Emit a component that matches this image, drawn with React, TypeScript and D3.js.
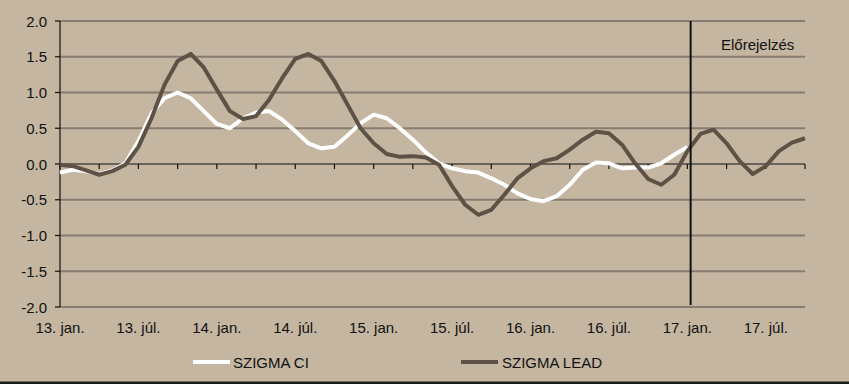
import React from "react";
import * as d3 from "d3";

const xLabels = ["13. jan.", "13. júl.", "14. jan.", "14. júl.", "15. jan.", "15. júl.", "16. jan.", "16. júl.", "17. jan.", "17. júl."];
const yTicks = [-2, -1.5, -1, -0.5, 0, 0.5, 1, 1.5, 2];

// monthly values, Jan 2013 .. Oct 2017
const szigmaLead = [
  -0.01, -0.03, -0.09, -0.15, -0.10, -0.01, 0.24, 0.64, 1.11, 1.44, 1.54, 1.35,
  1.04, 0.74, 0.63, 0.67, 0.90, 1.20, 1.47, 1.54, 1.44, 1.16, 0.83, 0.50,
  0.29, 0.14, 0.10, 0.11, 0.09, -0.01, -0.31, -0.57, -0.71, -0.64, -0.43, -0.20,
  -0.06, 0.04, 0.08, 0.20, 0.34, 0.45, 0.43, 0.27, 0.01, -0.21, -0.29, -0.15,
  0.18, 0.42, 0.48, 0.29, 0.04, -0.14, -0.03, 0.18, 0.30, 0.36,
];
const szigmaCI = [
  -0.12, -0.08, -0.10, -0.14, -0.09, 0.01, 0.32, 0.71, 0.92, 1.00, 0.92, 0.74,
  0.56, 0.50, 0.64, 0.72, 0.74, 0.62, 0.46, 0.29, 0.22, 0.24, 0.40, 0.57,
  0.69, 0.64, 0.50, 0.34, 0.16, 0.01, -0.06, -0.10, -0.12, -0.20, -0.29, -0.41,
  -0.49, -0.52, -0.45, -0.29, -0.08, 0.02, 0.01, -0.06, -0.05, -0.05, 0.01, 0.13,
  0.24,
];
const forecastStart = 48.25;
const forecastLabel = "Előrejelzés";
const seriesNames = ["SZIGMA CI", "SZIGMA LEAD"];

const W = 849;
const H = 384;
const BG = "#C4B6A0";
const GRID = "#877C71";
const DARK = "#5E5247";
const FONT = "'Liberation Sans', Arial, sans-serif";

export default function App() {
  const n = szigmaLead.length;
  const x = d3.scaleLinear().domain([0, n - 1]).range([60, 805]);
  const y = d3.scaleLinear().domain([-2, 2]).range([307, 21]);
  const line = d3
    .line<number>()
    .x((_, i) => x(i))
    .y((d) => y(d));
  const tickIdx = d3.range(0, n, 3);
  const labelIdx = xLabels.map((_, i) => i * 6);

  return (
    <svg
      width={W}
      height={H}
      style={{ position: "absolute", left: 0, top: 0, display: "block" }}
      fontFamily={FONT}
    >
      <rect x={0} y={0} width={W} height={H} fill={BG} />
      {/* gridlines */}
      {yTicks
        .filter((v) => v !== 0)
        .map((v) => (
          <line key={"g" + v} x1={x(0)} x2={x(n - 1)} y1={y(v)} y2={y(v)} stroke={GRID} strokeWidth={2} />
        ))}
      {/* y axis */}
      <line x1={60} x2={60} y1={y(2)} y2={y(-2)} stroke="#111" strokeWidth={1.2} />
      {yTicks.map((v) => (
        <g key={"y" + v}>
          <line x1={55} x2={60} y1={y(v)} y2={y(v)} stroke="#111" strokeWidth={1.2} />
          <text x={47} y={y(v) + 5.5} textAnchor="end" fontSize={15} fill="#111">
            {v.toFixed(1)}
          </text>
        </g>
      ))}
      {/* x axis at 0 */}
      <line x1={x(0)} x2={x(n - 1)} y1={y(0)} y2={y(0)} stroke="#111" strokeWidth={1.2} />
      {tickIdx.map((i) => (
        <line key={"t" + i} x1={x(i)} x2={x(i)} y1={y(0)} y2={y(0) + 5} stroke="#111" strokeWidth={1.2} />
      ))}
      {labelIdx.map((i, k) => (
        <text key={"xl" + k} x={x(i)} y={333} textAnchor="middle" fontSize={15} fill="#111">
          {xLabels[k]}
        </text>
      ))}
      {/* series */}
      <path d={line(szigmaCI) || ""} fill="none" stroke="#FFFFFF" strokeWidth={4} strokeLinejoin="round" />
      <path d={line(szigmaLead) || ""} fill="none" stroke={DARK} strokeWidth={4} strokeLinejoin="round" />
      {/* forecast line */}
      <line x1={x(forecastStart)} x2={x(forecastStart)} y1={y(2)} y2={305} stroke="#111" strokeWidth={2} />
      <text x={721} y={50} fontSize={15} fill="#111">
        {forecastLabel}
      </text>
      {/* legend */}
      <line x1={193} x2={230} y1={362} y2={362} stroke="#FFFFFF" strokeWidth={4} />
      <text x={233} y={367.5} fontSize={15} fill="#111">
        {seriesNames[0]}
      </text>
      <line x1={461} x2={498} y1={362} y2={362} stroke={DARK} strokeWidth={4} />
      <text x={502} y={367.5} fontSize={15} fill="#111">
        {seriesNames[1]}
      </text>
      <rect x={0} y={381.5} width={W} height={2.5} fill="#1a1a1a" />
    </svg>
  );
}
